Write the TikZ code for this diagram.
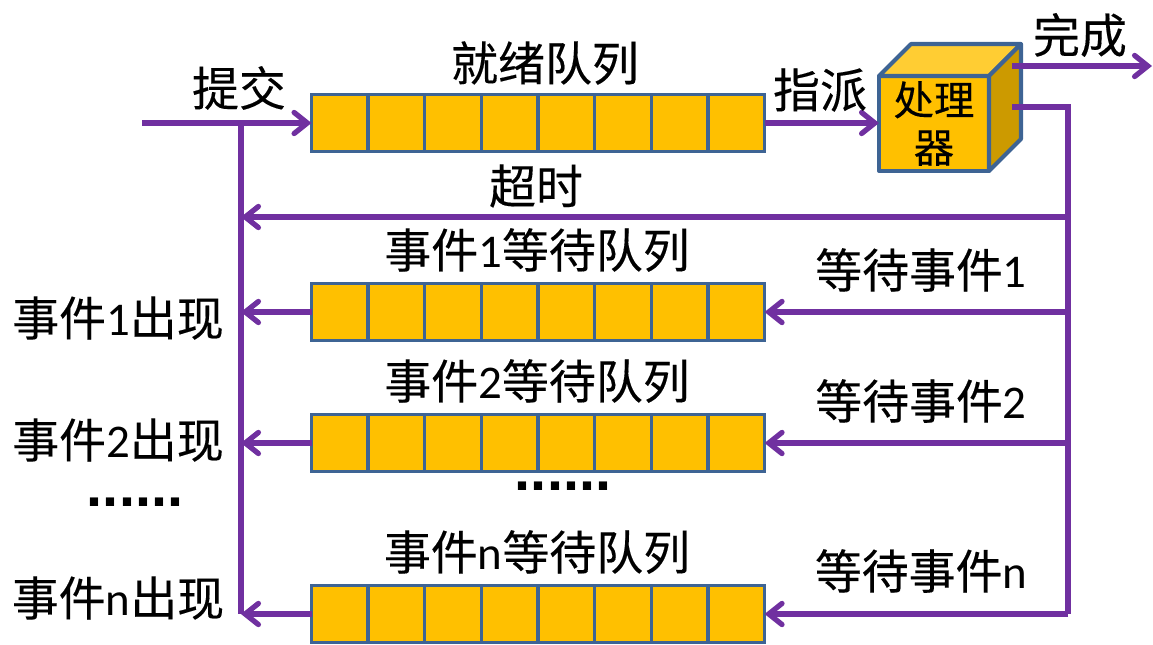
\documentclass[tikz,border=0pt]{standalone}
\usepackage{fontspec}
\usepackage{xcolor}
\usetikzlibrary{arrows.meta, positioning, calc}
\setmainfont{Carlito}
\newfontfamily\cjk[FakeBold=0.25]{Noto Sans CJK SC}
\newfontfamily\dotfont{Liberation Sans Bold}
\newcommand{\zh}[1]{{\cjk #1}}
\definecolor{QueueFill}{RGB}{255,192,0}
\definecolor{CubeTop}{RGB}{255,205,51}
\definecolor{CubeSide}{RGB}{204,154,0}
\definecolor{BoxLine}{RGB}{62,100,148}
\definecolor{FlowPurple}{RGB}{112,48,160}

\begin{document}
\begin{tikzpicture}[
    x=0.02cm,y=-0.02cm,
    cell/.style={draw=BoxLine,fill=QueueFill,line width=1.9pt,minimum width=1.133cm,
                 minimum height=1.14cm,inner sep=0pt,outer sep=0pt,anchor=west},
    face/.style={draw=BoxLine,line width=2.3pt,line join=round},
    arr/.style={-{Straight Barb[length=7.5pt,width=12pt,line cap=round]},FlowPurple,line width=3pt},
    flow/.style={FlowPurple,line width=3pt},
    lbl/.style={font=\fontsize{26.7}{30}\selectfont,inner sep=0pt},
    dotlbl/.style={font=\fontsize{32.8}{36}\selectfont\dotfont,inner sep=0pt}
  ]
  \useasboundingbox (0,0) rectangle (1153,645);
  % queues
  \foreach \name/\ypos in {ready/123,waita/312,waitb/443,waitn/614}{
    \node[cell] (\name1) at (311.5,\ypos) {};
    \foreach \prev [count=\cur from 2] in {1,...,7}
      \node[cell,right=0pt of \name\prev] (\name\cur) {};
  }
  % processor cube
  \node[face,fill=QueueFill,minimum width=2.2cm,minimum height=1.9cm,inner sep=0pt,outer sep=0pt,
        align=center,font=\fontsize{23}{27}\selectfont\cjk] (proc) at (934,123.5) {处理\\器};
  \draw[face,fill=CubeTop] (proc.north west) -- ++(32,-32) -- ++(110,0) -- (proc.north east) -- cycle;
  \draw[face,fill=CubeSide] (proc.north east) -- ++(32,-32) -- ++(0,95) -- (proc.south east) -- cycle;
  % free ends
  \coordinate (entry) at (142,123);
  \coordinate (bustop) at (241,123);
  \coordinate (busend) at (241,614);
  \coordinate (donefrom) at (1012,66);
  \coordinate (doneto) at (1152,66);
  \coordinate (backfrom) at (1012,107);
  \coordinate (backcorner) at (1068,107);
  \coordinate (backend) at (1068,614);
  \coordinate (timeoutfrom) at (1068,217);
  \coordinate (timeoutto) at (241,217);
  % connectors
  \draw[arr] (entry) -- (ready1.west);
  \draw[arr] (ready8.east) -- (ready8.east -| proc.west);
  \draw[arr] (donefrom) -- (doneto);
  \draw[flow] (bustop) -- (busend);
  \draw[flow] (backfrom) -- (backcorner) -- (backend);
  \draw[arr] (timeoutfrom) -- (timeoutto);
  \foreach \name in {waita,waitb,waitn}{
    \draw[arr] (\name1.west) -- (\name1.west -| bustop);
    \draw[arr] (\name8.east -| backend) -- (\name8.east);
  }
  % labels
  \node[lbl] (submit) at (239,88) {\zh{提交}};
  \node[lbl] (readylbl) at (545,63) {\zh{就绪队列}};
  \node[lbl] (dispatch) at (820,90) {\zh{指派}};
  \node[lbl] (done) at (1080,35) {\zh{完成}};
  \node[lbl] (timeout) at (536,186) {\zh{超时}};
  \node[lbl] (waitalbl) at (537,250) {\zh{事件}1\zh{等待队列}};
  \node[lbl] (waitblbl) at (537,381) {\zh{事件}2\zh{等待队列}};
  \node[lbl] (waitnlbl) at (537,552) {\zh{事件}n\zh{等待队列}};
  \node[lbl] (blocka) at (921,270) {\zh{等待事件}1};
  \node[lbl] (blockb) at (921,401) {\zh{等待事件}2};
  \node[lbl] (blockn) at (921,571) {\zh{等待事件}n};
  \node[lbl] (occura) at (118,318) {\zh{事件}1\zh{出现}};
  \node[lbl] (occurb) at (118,440) {\zh{事件}2\zh{出现}};
  \node[lbl] (occurn) at (118,598) {\zh{事件}n\zh{出现}};
  \node[dotlbl] (dotsleft) at (135,502) {......};
  \node[dotlbl] (dotsmid) at (563,486) {......};
\end{tikzpicture}
\end{document}
